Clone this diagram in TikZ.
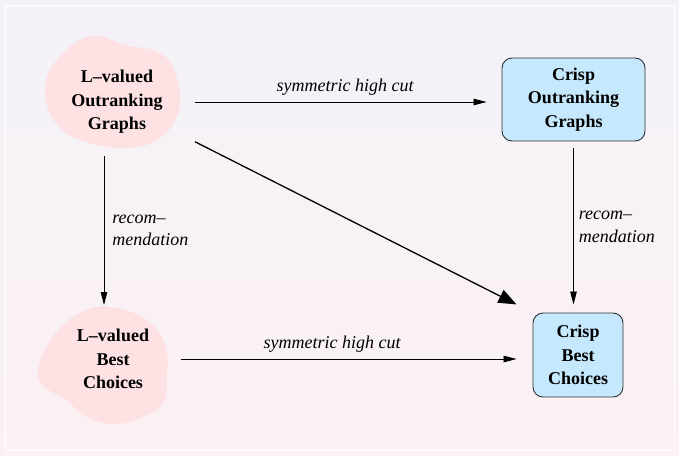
\documentclass[tikz,border=0pt]{standalone}
\usepackage{fontspec}
\setmainfont{Liberation Serif}
\usetikzlibrary{arrows.meta}
\definecolor{bgtop}{RGB}{243,242,248}
\definecolor{bgbot}{RGB}{252,241,243}
\definecolor{blobpink}{RGB}{253,225,227}
\definecolor{crispblue}{RGB}{198,232,252}
\definecolor{crispedge}{RGB}{50,50,50}
\begin{document}
\begin{tikzpicture}[x=1pt, y=-1pt,
    valued/.style={align=center, inner sep=0pt, font=\fontsize{18}{23.5}\selectfont\bfseries},
    crisp/.style={draw=crispedge, line width=0.9pt, fill=crispblue, rounded corners=10pt, align=center, inner sep=0pt, font=\fontsize{18}{23.5}\selectfont\bfseries},
    lbl/.style={inner sep=0pt, font=\fontsize{18}{22.5}\selectfont\itshape},
    arr/.style={-{Triangle[length=13pt,width=6.5pt]}, line width=0.8pt},
    bigarr/.style={-{Triangle[length=18pt,width=14pt]}, line width=1.3pt}]
    \useasboundingbox (0,0) rectangle (679,455);
    % background
    \fill[top color=bgtop, bottom color=bgbot] (0,0) rectangle (679,455);
    \draw[white, line width=1pt] (5,5) rectangle (674,450);

    % L-valued blobs
    \fill[blobpink] plot[smooth cycle, tension=0.7] coordinates {(90,36) (125,45) (160,53) (176,75) (179,110) (160,138) (127,148) (90,143) (60,128) (45,95) (55,62)};
    \fill[blobpink] plot[smooth cycle, tension=0.7] coordinates {(110,307) (147,320) (165,345) (167,375) (163,403) (140,418) (113,424) (85,416) (66,400) (42,385) (38,370) (45,350) (60,328) (82,312)};

    \node[valued, minimum width=128pt, minimum height=80pt, outer sep=14pt] (lvog) at (117,102) {L--valued\\Outranking\\Graphs};
    \node[valued, minimum width=112pt, minimum height=84pt, outer sep=12pt] (lvbc) at (113,359) {L--valued\\Best\\Choices};

    % crisp boxes
    \node[crisp, minimum width=143pt, minimum height=83pt] (cog) at (573.5,99.5) {Crisp\\Outranking\\Graphs};
    \node[crisp, minimum width=90pt, minimum height=84pt] (cbc) at (578,355) {Crisp\\Best\\Choices};

    % cuts
    \draw[arr, shorten >=15pt] (lvog.east) -- (lvog.east -| cog.west)
        node[lbl, pos=0.49, above=6pt] (cutog) {symmetric high cut};
    \draw[arr, shorten >=16pt] (lvbc.east) -- (lvbc.east -| cbc.west)
        node[lbl, pos=0.43, above=6pt] (cutbc) {symmetric high cut};

    % recommendations
    \draw[arr] ([xshift=-9pt]lvog.south -| lvbc.north) -- ([xshift=-9pt]lvbc.north)
        node[lbl, midway, right=8pt, align=left] (recl) {recom--\\mendation};
    \draw[arr, shorten <=7pt, shorten >=8pt] (cog.south) -- (cog.south |- cbc.north)
        node[lbl, midway, right=5pt, align=left] (recc) {recom--\\mendation};

    \draw[bigarr, shorten >=18pt] (lvog.-27) -- (cbc.north west);
\end{tikzpicture}
\end{document}
